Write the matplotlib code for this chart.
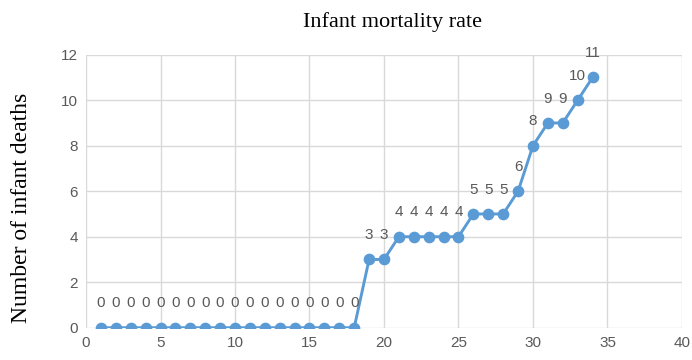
import matplotlib
matplotlib.use("Agg")
import matplotlib.pyplot as plt

# data
days = list(range(1, 35))
deaths = [0] * 18 + [3, 3, 4, 4, 4, 4, 4, 5, 5, 5, 6, 8, 9, 9, 10, 11]
x_ticks = [0, 5, 10, 15, 20, 25, 30, 35, 40]
y_ticks = [0, 2, 4, 6, 8, 10, 12]

blue = "#5B9BD5"
grey = "#595959"

fig = plt.figure(figsize=(6.92, 3.6), dpi=100)
ax = fig.add_axes([0.1243, 0.0897, 0.8612, 0.7583])

ax.plot(days, deaths, color=blue, linewidth=2.1, marker="o", markersize=7.4, zorder=3)

# value labels above each point
for x, y in zip(days, deaths):
    ax.annotate(str(y), xy=(x, y), xytext=(0, 17.5), textcoords="offset points",
                ha="center", va="center", color=grey, fontsize=11,
                family="Liberation Sans")

ax.set_xlim(0, 40)
ax.set_ylim(0, 12)
ax.set_xticks(x_ticks)
ax.set_yticks(y_ticks)
ax.grid(True, color="#D9D9D9", linewidth=1)
ax.set_axisbelow(True)
for s in ax.spines.values():
    s.set_visible(False)
ax.tick_params(length=0, labelsize=11, colors=grey, pad=6)
for lab in ax.get_xticklabels() + ax.get_yticklabels():
    lab.set_family("Liberation Sans")

fig.text(0.5665, 0.939, "Infant mortality rate", ha="center", va="center",
         fontsize=16, family="Liberation Serif")
fig.text(0.031, 0.422, "Number of infant deaths", rotation=90, ha="center",
         va="center", fontsize=17, family="Liberation Serif")

fig.savefig("out.png", dpi=100)
